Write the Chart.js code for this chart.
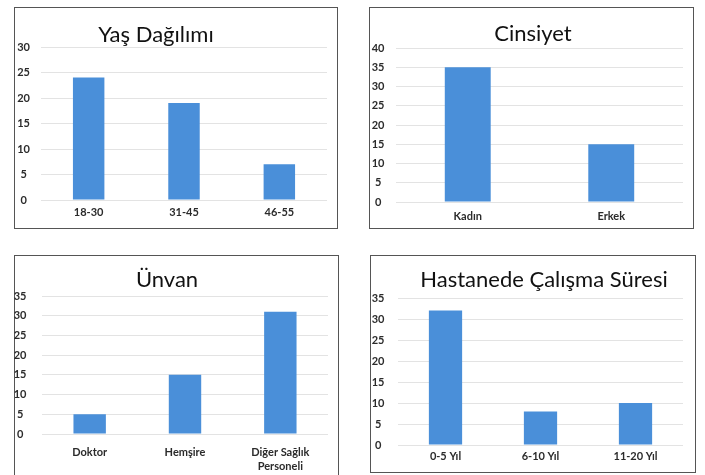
<!DOCTYPE html>
<html lang="tr">
<head>
<meta charset="utf-8">
<title>Katılımcı Özellikleri</title>
<script src="https://cdn.jsdelivr.net/npm/chart.js@4/dist/chart.umd.min.js"></script>
<style>
  html, body { margin: 0; padding: 0; background: #ffffff; }
  body { width: 705px; height: 475px; position: relative; overflow: hidden; }
  .frame { position: absolute; box-sizing: border-box; border: 1.5px solid #555; background: #fff; }
  canvas { position: absolute; }
</style>
</head>
<body>
<div class="frame" style="left:14px;top:7px;width:324px;height:222px;"></div>
<div class="frame" style="left:369px;top:7px;width:325px;height:222px;"></div>
<div class="frame" style="left:14px;top:255px;width:325px;height:240px;"></div>
<div class="frame" style="left:370px;top:255px;width:326px;height:218px;"></div>

<canvas id="yas" width="324" height="221" style="left:14px;top:7px;"></canvas>
<canvas id="cinsiyet" width="324" height="221" style="left:369px;top:7px;"></canvas>
<canvas id="unvan" width="324" height="220" style="left:14px;top:255px;"></canvas>
<canvas id="sure" width="325" height="217" style="left:370px;top:255px;"></canvas>

<script>
// Yaş dağılımı
const ageLabels = ['18-30', '31-45', '46-55'];
const ageCounts = [24, 19, 7];

// Cinsiyet
const genderLabels = ['Kadın', 'Erkek'];
const genderCounts = [35, 15];

// Ünvan
const roleLabels = ['Doktor', 'Hemşire', ['Diğer Sağlık', 'Personeli']];
const roleCounts = [5, 15, 31];

// Hastanede çalışma süresi
const tenureLabels = ['0-5 Yıl', '6-10 Yıl', '11-20 Yıl'];
const tenureCounts = [32, 8, 10];

const BAR = '#4a8fd9';
const GRID = '#e3e3e3';
const INK = '#2b2b2b';
const FAMILY = 'Lato, "Open Sans", "DejaVu Sans", sans-serif';

// Panel title drawn at a set offset inside each canvas
const panelTitle = {
  id: 'panelTitle',
  afterDraw(chart, args, opts) {
    const ctx = chart.ctx;
    ctx.save();
    ctx.font = `${opts.size}px ${FAMILY}`;
    ctx.fillStyle = '#111';
    ctx.textAlign = 'center';
    ctx.textBaseline = 'middle';
    ctx.fillText(opts.text, opts.x, opts.y);
    ctx.restore();
  }
};

function makeChart(id, labels, values, cfg) {
  return new Chart(document.getElementById(id), {
    type: 'bar',
    data: {
      labels: labels,
      datasets: [{
        data: values,
        backgroundColor: BAR,
        borderWidth: 0,
        barPercentage: 1,
        categoryPercentage: cfg.catPct
      }]
    },
    options: {
      responsive: false,
      animation: false,
      devicePixelRatio: 1,
      layout: { padding: { top: cfg.top, right: cfg.right, left: 0, bottom: 0 } },
      plugins: {
        legend: { display: false },
        tooltip: { enabled: false },
        title: { display: false },
        panelTitle: cfg.title
      },
      scales: {
        x: {
          grid: { display: false, drawTicks: false },
          border: { display: false },
          ticks: {
            color: INK,
            padding: cfg.xPad,
            maxRotation: 0,
            autoSkip: false,
            font: { family: FAMILY, size: 11, weight: 'bold', lineHeight: 1.25 }
          },
          afterFit(s) { s.height = cfg.xHeight; }
        },
        y: {
          min: 0,
          max: cfg.max,
          grid: { color: GRID, lineWidth: 1, drawTicks: false },
          border: { display: false },
          ticks: {
            stepSize: 5,
            color: INK,
            padding: cfg.yPad,
            crossAlign: 'center',
            font: { family: FAMILY, size: 11, weight: 'bold' }
          },
          afterFit(s) { s.width = cfg.yWidth; }
        }
      }
    },
    plugins: [panelTitle]
  });
}

makeChart('yas', ageLabels, ageCounts, {
  max: 30, catPct: 0.33, top: 40, right: 11, yWidth: 27, xHeight: 28, yPad: 11, xPad: 6,
  title: { text: 'Yaş Dağılımı', x: 142, y: 28, size: 22 }
});

makeChart('cinsiyet', genderLabels, genderCounts, {
  max: 40, catPct: 0.32, top: 41, right: 10, yWidth: 27, xHeight: 26, yPad: 11.5, xPad: 8,
  title: { text: 'Cinsiyet', x: 164, y: 27, size: 22 }
});

makeChart('unvan', roleLabels, roleCounts, {
  max: 35, catPct: 0.34, top: 41, right: 10, yWidth: 28, xHeight: 41, yPad: 15.5, xPad: 12,
  title: { text: 'Ünvan', x: 153, y: 25, size: 22 }
});

makeChart('sure', tenureLabels, tenureCounts, {
  max: 35, catPct: 0.35, top: 43, right: 12, yWidth: 28, xHeight: 27, yPad: 13.5, xPad: 5,
  title: { text: 'Hastanede Çalışma Süresi', x: 174, y: 25, size: 22 }
});
</script>
</body>
</html>
